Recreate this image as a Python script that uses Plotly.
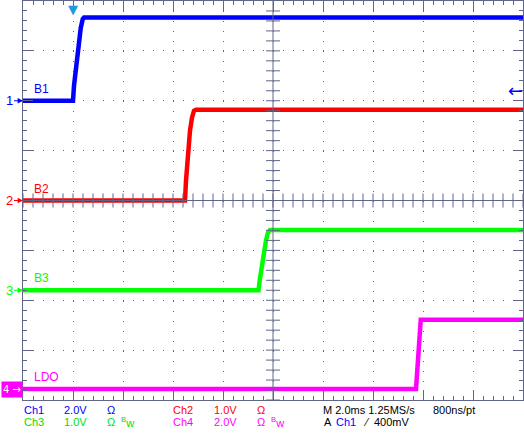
import plotly.graph_objects as go
import numpy as np

# waveform samples: time in ms, amplitude in volts
ch1_t = [-2.0, 0.0, 0.04, 0.12, 0.19, 0.24, 0.31, 0.39, 0.44, 18.0]
ch1_v = [0.0, 0.0, 0.6, 1.32, 1.88, 2.4, 2.92, 3.28, 3.34, 3.34]
ch2_t = [-2.0, 4.48, 4.52, 4.60, 4.68, 4.76, 4.84, 4.92, 18.0]
ch2_v = [0.0, 0.0, 0.4, 1.0, 1.4, 1.66, 1.8, 1.82, 1.82]
ch3_t = [-2.0, 7.42, 7.48, 7.60, 7.72, 7.80, 7.88, 18.0]
ch3_v = [0.0, 0.0, 0.24, 0.7, 1.0, 1.16, 1.21, 1.21]
ch4_t = [-2.0, 13.72, 13.75, 13.79, 13.83, 13.87, 13.91, 18.0]
ch4_v = [0.0, 0.0, 0.44, 1.09, 1.69, 2.29, 2.78, 2.78]

ch_names = ["B1", "B2", "B3", "LDO"]
ch_scale = [2.0, 1.0, 1.0, 2.0]        # V/div
ch_ground = [2.0, 0.0, -1.8, -3.78]    # ground marker, divisions
ch_colors = ["#0000ff", "#ff0000", "#00ff00", "#ff00ff"]
trig_level = 0.4  # V, on Ch1

grid_col = "#5f6688"
font_fam = "Liberation Sans, Arial, sans-serif"

L, T, W, H = 23, 1, 500, 399

fig = go.Figure()

waves = [(ch1_t, ch1_v), (ch2_t, ch2_v), (ch3_t, ch3_v), (ch4_t, ch4_v)]
for i, (t, v) in enumerate(waves):
    y = [ch_ground[i] + val / ch_scale[i] for val in v]
    fig.add_trace(go.Scatter(x=t, y=y, mode="lines", name=ch_names[i],
                             line=dict(color=ch_colors[i], width=4.5),
                             hoverinfo="skip", showlegend=False))

# centre cross tick marks (graticule)
xt = np.arange(-2, 18.001, 0.4)
yt = np.arange(-4, 4.001, 0.2)
fig.add_trace(go.Scatter(x=xt, y=[0] * len(xt), mode="markers", hoverinfo="skip",
                         marker=dict(symbol="line-ns", size=10, line=dict(color=grid_col, width=1)),
                         showlegend=False, cliponaxis=False))
fig.add_trace(go.Scatter(x=[8] * len(yt), y=yt, mode="markers", hoverinfo="skip",
                         marker=dict(symbol="line-ew", size=10, line=dict(color=grid_col, width=1)),
                         showlegend=False, cliponaxis=False))

fig.add_shape(type="line", xref="x", yref="paper", x0=8, x1=8, y0=0, y1=1,
              line=dict(color=grid_col, width=1), layer="above")
fig.add_shape(type="line", xref="paper", yref="y", x0=0, x1=1, y0=0, y1=0,
              line=dict(color=grid_col, width=1), layer="above")


def px_x(px):
    return (px - L) / W


def px_y(py):
    return (T + H - py) / H


ann = []
for i in range(4):
    # channel name label
    ann.append(dict(text=ch_names[i], xref="paper", yref="y", x=px_x(32), y=ch_ground[i] + 0.24,
                    xanchor="left", yanchor="middle", showarrow=False,
                    font=dict(color=ch_colors[i], size=12, family=font_fam)))
    if i < 3:
        ann.append(dict(text=str(i + 1), xref="paper", yref="y", x=0, y=ch_ground[i],
                        showarrow=True, ax=-14, ay=0, arrowhead=2, arrowsize=0.9,
                        arrowwidth=1.2, arrowcolor=ch_colors[i], standoff=0,
                        font=dict(color=ch_colors[i], size=13, family=font_fam)))
    else:
        ann.append(dict(text="4 →", xref="paper", yref="y", x=0, y=ch_ground[i],
                        xanchor="right", yanchor="middle", showarrow=False,
                        bgcolor=ch_colors[i], borderpad=1,
                        font=dict(color="white", size=11, family="DejaVu Sans Condensed, DejaVu Sans")))

# trigger position and level markers
ann.append(dict(text="▼", xref="x", yref="paper", x=0, y=1.0, xanchor="center", yanchor="top",
                showarrow=False, borderpad=0,
                font=dict(color="#1e9be0", size=13, family="DejaVu Sans")))
ann.append(dict(text="←", xref="paper", yref="y", x=px_x(515), y=ch_ground[0] + trig_level / ch_scale[0],
                xanchor="center", yanchor="middle", showarrow=False, borderpad=0,
                font=dict(color=ch_colors[0], size=18, family="DejaVu Sans")))

row1 = [("Ch1", 23, "#0000ff"), ("2.0V", 63, "#0000ff"), ("Ω", 106, "#0000ff"),
        ("Ch2", 172, "#ff0000"), ("1.0V", 213, "#ff0000"), ("Ω", 256, "#ff0000"),
        ("M 2.0ms 1.25MS/s", 322, "#000000"), ("800ns/pt", 432, "#000000")]
row2 = [("Ch3", 23, "#00e000"), ("1.0V", 63, "#00e000"), ("Ω", 106, "#00e000"),
        ("<sup>B</sup>w", 120, "#00e000"),
        ("Ch4", 172, "#ff00ff"), ("2.0V", 213, "#ff00ff"), ("Ω", 256, "#ff00ff"),
        ("<sup>B</sup>w", 270, "#ff00ff"),
        ("A", 323, "#000000"), ("Ch1", 335, "#0000ff"), ("⁄", 362, "#000000"),
        ("400mV", 373, "#000000")]
for row, py in [(row1, 410), (row2, 422)]:
    for txt, px, col in row:
        ann.append(dict(text=txt, xref="paper", yref="paper", x=px_x(px), y=px_y(py),
                        xanchor="left", yanchor="middle", showarrow=False, borderpad=0,
                        font=dict(color=col, size=11, family=font_fam)))

axis_common = dict(showline=True, linecolor=grid_col, linewidth=1, mirror="ticks",
                   ticks="inside", ticklen=10, tickcolor=grid_col, tickwidth=1,
                   showticklabels=False, zeroline=False,
                   showgrid=True, gridcolor=grid_col, gridwidth=1, griddash="1px,9px",
                   fixedrange=True)

fig.update_layout(
    width=524, height=440,
    margin=dict(l=L, r=524 - L - W, t=T, b=440 - T - H),
    paper_bgcolor="white", plot_bgcolor="white",
    xaxis=dict(range=[-2, 18], tick0=-2, dtick=2,
               minor=dict(ticks="inside", ticklen=4, dtick=0.4, tick0=-2,
                          tickcolor=grid_col, showgrid=False),
               **axis_common),
    yaxis=dict(range=[-4, 4], tick0=-4, dtick=1,
               minor=dict(ticks="inside", ticklen=4, dtick=0.2, tick0=-4,
                          tickcolor=grid_col, showgrid=False),
               **axis_common),
    annotations=ann,
    showlegend=False,
)

fig.write_html("out.html", config={"displayModeBar": False},
               post_script="document.body.style.margin='0px';")
